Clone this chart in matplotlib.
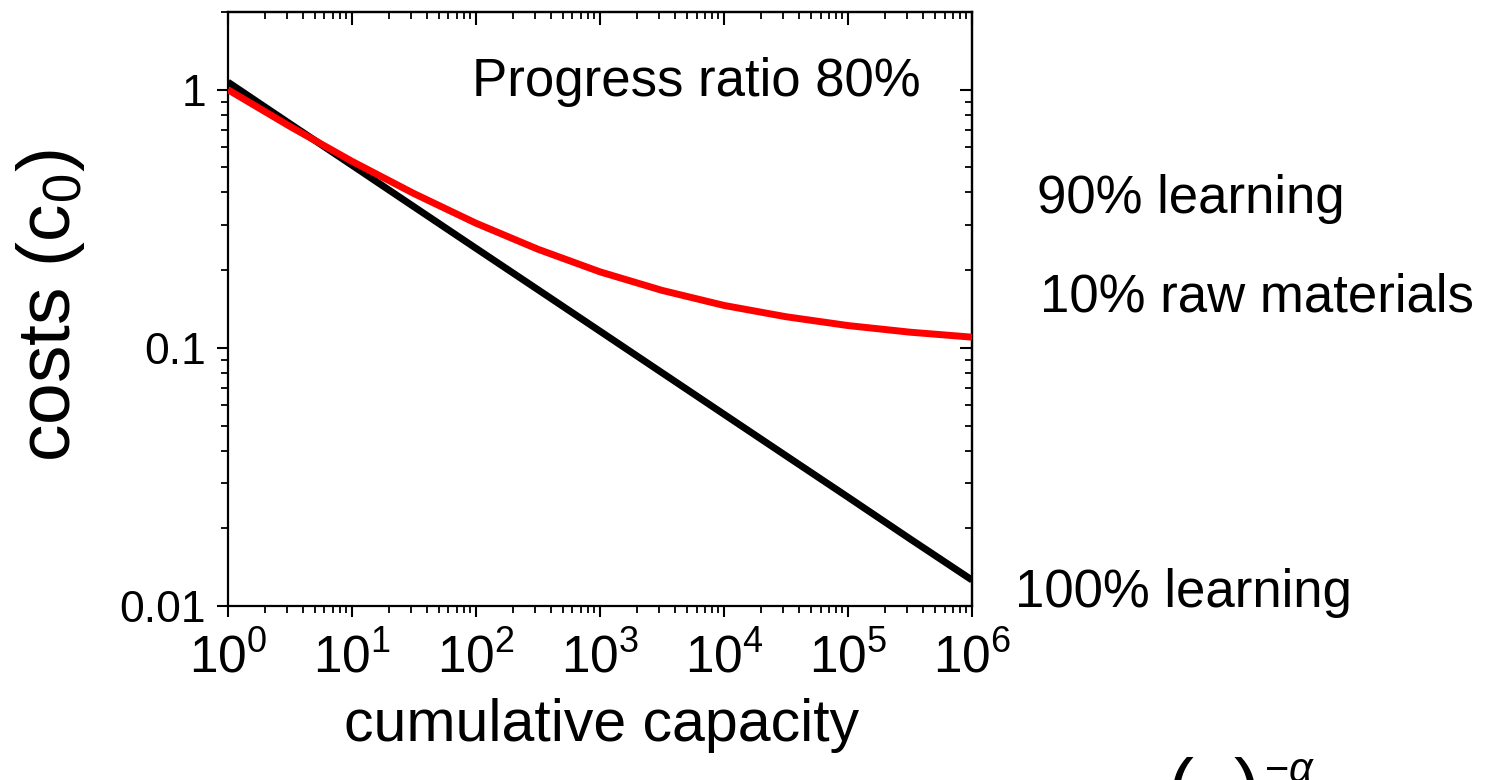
import matplotlib
matplotlib.use('Agg')
import matplotlib.pyplot as plt
from matplotlib.ticker import LogLocator, NullFormatter

plt.rcParams['font.family'] = ['Liberation Sans', 'DejaVu Sans']
plt.rcParams['mathtext.fontset'] = 'custom'
plt.rcParams['mathtext.rm'] = 'Liberation Sans'
plt.rcParams['mathtext.it'] = 'Liberation Sans:italic'
plt.rcParams['mathtext.default'] = 'regular'

# valeurs (decades et demi-decades)
capacity = [1, 3.16, 10, 31.6, 100, 316, 1e3, 3.16e3, 1e4, 3.16e4, 1e5, 3.16e5, 1e6]
cost_learning = [1.07, 0.738, 0.510, 0.352, 0.243, 0.168, 0.116,
                 0.0801, 0.0553, 0.0382, 0.0264, 0.0182, 0.0126]
cost_mixed = [1.0, 0.721, 0.528, 0.396, 0.304, 0.241, 0.197,
              0.167, 0.146, 0.132, 0.122, 0.115, 0.110]
ytick_vals = [0.01, 0.1, 1]
ytick_labels = ['0.01', '0.1', '1']

fig = plt.figure(figsize=(14.92, 7.8), dpi=100)
ax = fig.add_axes([0.1528, 0.2231, 0.4987, 0.7615])

ax.plot(capacity, cost_learning, color='black', lw=5, solid_capstyle='butt', zorder=2)
ax.plot(capacity, cost_mixed, color='red', lw=5, solid_capstyle='butt', zorder=3)

ax.set_xscale('log')
ax.set_yscale('log')
ax.set_xlim(1, 1e6)
ax.set_ylim(0.01, 2.0)

ax.set_yticks(ytick_vals, labels=ytick_labels)
ax.yaxis.set_minor_locator(LogLocator(base=10, subs=range(2, 10)))
ax.yaxis.set_minor_formatter(NullFormatter())
ax.xaxis.set_major_locator(LogLocator(base=10, numticks=10))
ax.xaxis.set_minor_locator(LogLocator(base=10, subs=range(2, 10), numticks=20))
ax.xaxis.set_minor_formatter(NullFormatter())

for s in ax.spines.values():
    s.set_linewidth(1.6)

ax.tick_params(axis='both', which='major', direction='out', length=8, width=1.5)
ax.tick_params(axis='both', which='minor', direction='out', length=5, width=1.3)
ax.tick_params(axis='x', which='major', labelsize=37, pad=12)
ax.tick_params(axis='y', which='major', labelsize=32, pad=8)

# ticks vers l'interieur en haut et a droite
top = ax.secondary_xaxis('top')
top.set_xscale('log')
top.xaxis.set_major_locator(LogLocator(base=10, numticks=10))
top.xaxis.set_minor_locator(LogLocator(base=10, subs=range(2, 10), numticks=20))
top.tick_params(which='major', direction='in', length=9, width=1.5, labeltop=False)
top.tick_params(which='minor', direction='in', length=5, width=1.3)
top.spines['top'].set_linewidth(1.6)

right = ax.secondary_yaxis('right')
right.set_yscale('log')
right.set_yticks(ytick_vals)
right.yaxis.set_minor_locator(LogLocator(base=10, subs=range(2, 10)))
right.tick_params(which='major', direction='in', length=9, width=1.5, labelright=False)
right.tick_params(which='minor', direction='in', length=5, width=1.3)
right.spines['right'].set_linewidth(1.6)

fig.text(0.3164, 0.895, 'Progress ratio 80%', fontsize=38, va='center', ha='left')
fig.text(0.695, 0.745, '90% learning', fontsize=38, va='center', ha='left')
fig.text(0.697, 0.619, '10% raw materials', fontsize=38, va='center', ha='left')
fig.text(0.680, 0.24, '100% learning', fontsize=38, va='center', ha='left')

fig.text(0.403, 0.07, 'cumulative capacity', fontsize=42.5, va='center', ha='center')
fig.text(0.034, 0.608, r'costs (c$_0$)', fontsize=54, va='center', ha='center',
         rotation=90)

# formule coupee en bas de l'image, comme sur l'original
fig.text(0.782, 0.03, '(', fontsize=56, va='top', ha='left')
fig.text(0.827, 0.03, ')', fontsize=56, va='top', ha='left')
fig.text(0.847, 0.037, r'$-\mathit{\alpha}$', fontsize=30, va='top', ha='left')

fig.savefig('out.png', dpi=100)
